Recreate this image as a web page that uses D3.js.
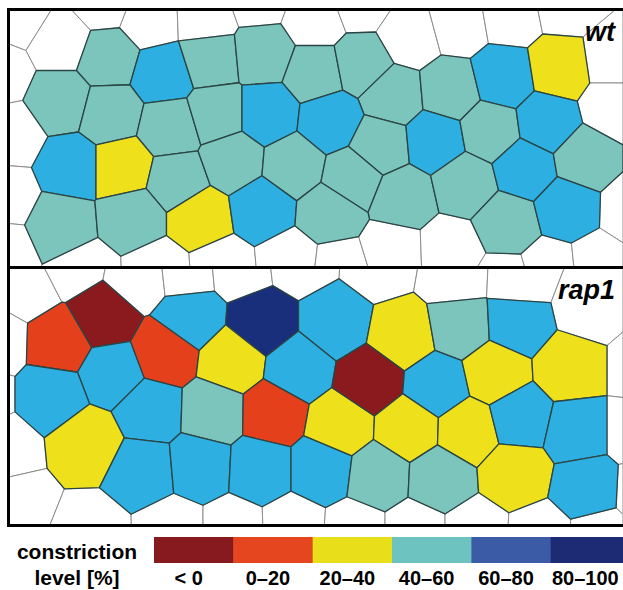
<!DOCTYPE html>
<html><head><meta charset="utf-8">
<script src="https://cdn.jsdelivr.net/npm/d3@7"></script>
<style>body{margin:0;background:#fff}svg{display:block}</style>
</head><body>
<svg id="chart" width="623" height="590"></svg>
<script>
// constriction level classes
const levels = ["< 0", "0–20", "20–40", "40–60", "60–80", "80–100"];
const legendColors = ["#861a1e", "#e5461f", "#e8de1a", "#6cc3bf", "#3c5ba6", "#1d2b74"];
const cellColors = ["#8b1a1f", "#e5401c", "#eee01b", "#7cc5bd", "#2db0e1", "#1a2f7c"];

// wt panel: cell seed positions (µm-like units) and level index (-1 = not measured)
const wtX = [99,154,201,254,306,353,384,441,494,551, 51,101,161,208,258,321,371,426,481,538,
             61,113,168,224,284,344,394,456,516,576, 51,124,191,253,321,498,558,
             11,51,94,141,196,249,306,351,401,449,501,556, 605,605,624, -11,1,-4,-9,
             76,149,213,281,331,383,441,496,541,589];
const wtY = [48,64,49,44,63,54,86,81,68,59, 91,104,118,104,104,111,136,131,121,113,
             158,158,171,151,156,168,188,174,159,149, 214,208,208,199,204,214,199,
             6,31,-9,9,7,-12,9,-8,26,13,4,-7, 51,96,201, 63,126,186,241,
             266,263,259,253,259,243,241,274,261,256];
const wtLevel = [3,4,3,3,3,3,3,3,4,2, 3,3,3,3,4,4,3,4,3,4,
                 4,2,3,3,3,3,3,3,4,3, 3,3,2,4,3,3,4,
                 -1,-1,-1,-1,-1,-1,-1,-1,-1,-1,-1,-1, -1,-1,-1, -1,-1,-1,-1,
                 -1,-1,-1,-1,-1,-1,-1,-1,-1,-1];

// rap1 panel
const rapX = [94,51,103,156,181,253,223,326,289,43,141,204,264,78,134,191,251,313,331,394,
              451,508,361,428,486,561,399,459,511,568,369,431,506,578,
              16,61,131,176,231,291,371,446,511,581, 635,628,638, -15,-31,-6,6,
              81,164,224,284,346,406,466,531,591];
const rapY = [50,75,105,85,50,55,93,55,101,128,143,145,146,175,203,198,201,201,158,68,
              58,55,113,118,105,101,161,163,150,163,208,211,206,220,
              18,-5,8,3,-2,-9,-5,8,11,38, 101,163,223, 73,128,183,236,
              266,264,264,262,266,266,266,270,272];
const rapLevel = [0,1,4,1,4,5,2,4,4,4,4,3,1,2,4,4,4,4,2,2,
                  3,4,0,4,2,2,2,2,4,4,3,3,2,4,
                  -1,-1,-1,-1,-1,-1,-1,-1,-1,-1, -1,-1,-1, -1,-1,-1,-1,
                  -1,-1,-1,-1,-1,-1,-1,-1,-1];

const svg = d3.select("#chart");
const W = 623;
const panelH = 258;
const font = "Liberation Sans, Arial, Helvetica, sans-serif";
const x = d3.scaleLinear().domain([0, 614]).range([9, 623]);

function drawPanel(xs, ys, lv, top, label) {
  const y = d3.scaleLinear().domain([0, panelH]).range([top, top + panelH]);
  const pts = xs.map((d, i) => [x(d), y(ys[i])]);
  const vor = d3.Delaunay.from(pts).voronoi([x(0), top, W, top + panelH]);
  const g = svg.append("g");
  const idx = d3.range(pts.length);
  g.selectAll("path.w").data(idx.filter(i => lv[i] < 0)).join("path")
    .attr("class", "w").attr("d", i => vor.renderCell(i))
    .attr("fill", "#fff").attr("stroke", "#8c8c8c").attr("stroke-width", 1);
  g.selectAll("path.c").data(idx.filter(i => lv[i] >= 0)).join("path")
    .attr("class", "c").attr("d", i => vor.renderCell(i))
    .attr("fill", i => cellColors[lv[i]]).attr("stroke", "#2b4444")
    .attr("stroke-width", 1.3).attr("stroke-linejoin", "round");
  g.append("rect").attr("x", 8.5).attr("y", top).attr("width", 640).attr("height", panelH)
    .attr("fill", "none").attr("stroke", "#000").attr("stroke-width", 3);
  g.append("text").attr("x", 615).attr("y", top + 31).attr("text-anchor", "end")
    .attr("font-family", font).attr("font-weight", "bold")
    .attr("font-style", "italic").attr("font-size", 27).attr("fill", "#000").text(label);
}

drawPanel(wtX, wtY, wtLevel, 9.5, "wt");
drawPanel(rapX, rapY, rapLevel, 267.5, "rap1");

// legend
const lx = d3.scaleBand().domain(levels).range([154, 630]);
const lg = svg.append("g");
lg.selectAll("rect").data(levels).join("rect")
  .attr("x", d => lx(d)).attr("y", 537).attr("width", lx.bandwidth() + 0.5).attr("height", 26)
  .attr("fill", (d, i) => legendColors[i]);
lg.selectAll("text.lab").data(levels).join("text").attr("class", "lab")
  .attr("x", d => lx(d) + lx.bandwidth() / 2 - 5).attr("y", 585).attr("text-anchor", "middle")
  .attr("font-family", font).attr("font-weight", "bold").attr("font-size", 20).text(d => d);
lg.append("text").attr("x", 77).attr("y", 559).attr("text-anchor", "middle")
  .attr("font-family", font).attr("font-weight", "bold").attr("font-size", 21).text("constriction");
lg.append("text").attr("x", 77).attr("y", 585).attr("text-anchor", "middle")
  .attr("font-family", font).attr("font-weight", "bold").attr("font-size", 21).text("level [%]");
</script>
</body></html>
